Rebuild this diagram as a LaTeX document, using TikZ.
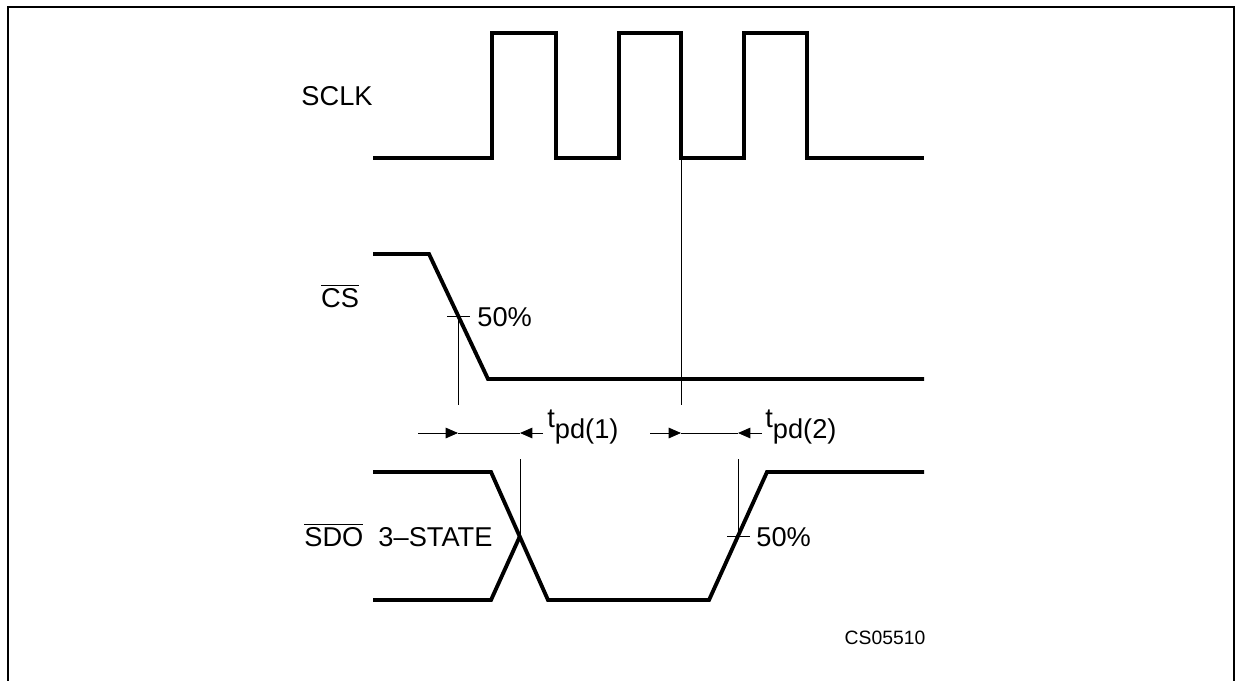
\documentclass[tikz,border=0pt]{standalone}
\usepackage{fontspec}
\setmainfont{Liberation Sans}
\usetikzlibrary{arrows.meta}

\begin{document}
\begin{tikzpicture}[
	x=0.02cm, y=-0.02cm,
	frame/.style={line width=1.6pt},
	sig/.style={line width=2.2pt, line join=miter},
	guide/.style={line width=0.5pt},
	dimarr/.style={-{Triangle[length=7pt,width=6pt]}, line width=0.5pt},
	lbl/.style={font=\fontsize{15.5}{18}\selectfont, inner sep=0pt},
	tag/.style={font=\fontsize{11}{13}\selectfont, inner sep=0pt},
	]
	\def\hi{33}  \def\lo{158}
	\useasboundingbox (0,0) rectangle (1236,680);
	\draw[frame] (8,700) -- (8,7) -- (1234,7) -- (1234,700);
	
	% SCLK
	\node[lbl] (sclk) at (337,96) {SCLK};
	\draw[sig] (373,\lo) -- (492,\lo) -- (492,\hi) -- (556,\hi) -- (556,\lo)
		-- (619,\lo) -- (619,\hi) -- (681,\hi) -- (681,\lo)
		-- (744,\lo) -- (744,\hi) -- (807,\hi) -- (807,\lo) -- (924,\lo);
	\coordinate (clkfall) at (681,\lo);
	
	% CS
	\node[lbl] (cs) at (340,296) {$\overline{\mbox{CS}}$};
	\draw[sig] (373,254) -- (429,254) -- (488,379) -- (924,379);
	\coordinate (cshalf) at (458,316);
	\node[lbl, anchor=west] (cspct) at (477,317) {50\%};
	
	% SDO
	\node[lbl, anchor=west] (sdo) at (304,535) {$\overline{\mbox{SDO}}$\ \ 3--STATE};
	\draw[sig] (373,472) -- (491,472) -- (548,600) -- (709,600) -- (767,472) -- (924,472);
	\draw[sig] (373,600) -- (491,600) -- (520,536);
	\coordinate (sdocross) at (520,536);
	\coordinate (sdohalf) at (738,536);
	\node[lbl, anchor=west] (sdopct) at (756,537) {50\%};
	
	% guides and ticks
	\coordinate (a1) at (458,433);
	\coordinate (b1) at (520,433);
	\coordinate (a2) at (681,433);
	\coordinate (b2) at (738,433);
	\draw[guide] ([xshift=-6]cshalf) -- ([xshift=7]cshalf);
	\draw[guide] ([xshift=-6]sdohalf) -- ([xshift=7]sdohalf);
	\draw[guide] (cshalf) -- ([yshift=16]a1);
	\draw[guide] (clkfall) -- ([yshift=16]a2);
	\draw[guide] (sdocross) -- ([yshift=-15]b1);
	\draw[guide] (sdohalf) -- ([yshift=-15]b2);
	
	% tpd dimensions
	\coordinate (t1l) at (418,433);
	\coordinate (t1r) at (543,433);
	\coordinate (t2l) at (650,433);
	\coordinate (t2r) at (762,433);
	\draw[dimarr] (t1l) -- (a1);
	\draw[guide] (a1) -- (b1);
	\draw[dimarr] (t1r) -- (b1);
	\draw[dimarr] (t2l) -- (a2);
	\draw[guide] (a2) -- (b2);
	\draw[dimarr] (t2r) -- (b2);
	\node[lbl, anchor=west] (tpd1) at (547,427) {t\raisebox{-0.8ex}{pd(1)}};
	\node[lbl, anchor=west] (tpd2) at (765,427) {t\raisebox{-0.8ex}{pd(2)}};
	
	\node[tag] (code) at (885,638) {CS05510};
\end{tikzpicture}
\end{document}
